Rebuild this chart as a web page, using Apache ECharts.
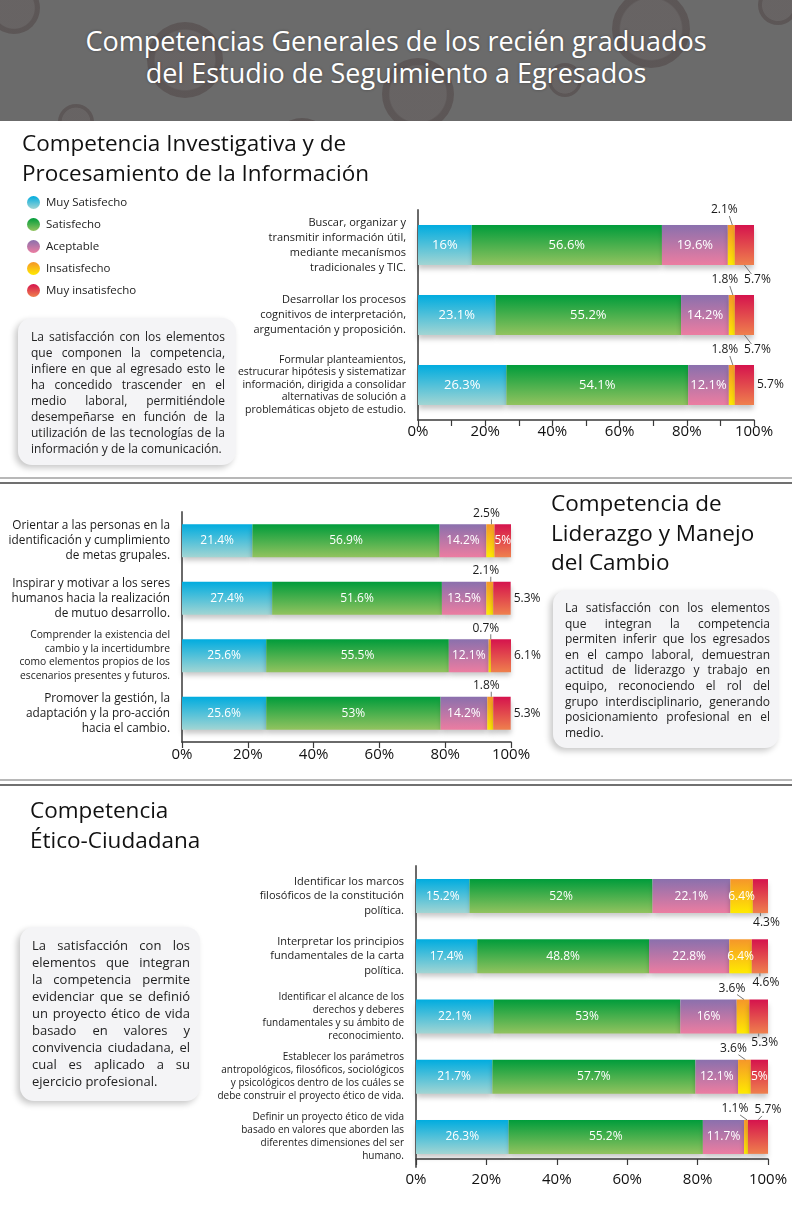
<!DOCTYPE html>
<html><head><meta charset="utf-8">
<script src="https://cdn.jsdelivr.net/npm/echarts@6/dist/echarts.min.js"></script>
<style>
html,body{margin:0;padding:0;background:#fff;}
body{width:792px;height:1224px;position:relative;overflow:hidden;font-family:"Open Sans","Noto Sans",sans-serif;color:#111;}
#header{position:absolute;left:0;top:0;width:792px;height:121px;background:#6b6b6b;overflow:hidden;}
.wm{position:absolute;border-radius:50%;background:radial-gradient(circle, rgba(95,82,82,0.30) 0%, rgba(95,82,82,0.30) 55%, rgba(72,58,58,0.42) 58%, rgba(72,58,58,0.42) 100%);}
#htitle{position:absolute;left:0;top:25px;width:792px;text-align:center;color:#fff;font-size:27px;line-height:32px;text-shadow:0 0 3px rgba(0,0,0,0.3);}
#chart{position:absolute;left:0;top:0;width:792px;height:1224px;z-index:1;}
.stitle{position:absolute;font-size:22.5px;line-height:29.5px;color:#111;white-space:nowrap;z-index:2;}
.box{position:absolute;background:#f4f4f6;border-radius:14px;box-shadow:-3px 3px 6px rgba(0,0,0,0.22);box-sizing:border-box;color:#222;z-index:2;}
.box div{white-space:nowrap;text-align:justify;text-align-last:justify;}
.box div.last{text-align-last:left;}
.sep{position:absolute;left:0;width:792px;z-index:2;}
</style></head>
<body>
<div id="header">
  <div class="wm" style="left:-12px;top:-18px;width:52px;height:52px"></div>
  <div class="wm" style="left:147px;top:22px;width:76px;height:76px"></div>
  <div class="wm" style="left:58px;top:104px;width:36px;height:36px"></div>
  <div class="wm" style="left:272px;top:118px;width:60px;height:60px"></div>
  <div class="wm" style="left:382px;top:58px;width:72px;height:72px"></div>
  <div class="wm" style="left:612px;top:-10px;width:78px;height:78px"></div>
  <div class="wm" style="left:548px;top:63px;width:34px;height:34px"></div>
  <div class="wm" style="left:700px;top:137px;width:56px;height:56px"></div>
  <div class="wm" style="left:758px;top:-15px;width:40px;height:40px"></div>
  <div class="wm" style="left:-5px;top:142px;width:60px;height:60px"></div>
  <div id="htitle">Competencias Generales de los recién graduados<br>del Estudio de Seguimiento a Egresados</div>
</div>
<div id="chart"></div>

<div class="stitle" style="left:22px;top:128px">Competencia Investigativa y de<br>Procesamiento de la Información</div>
<div class="stitle" style="left:551px;top:488px">Competencia de<br>Liderazgo y Manejo<br>del Cambio</div>
<div class="stitle" style="left:30px;top:795px">Competencia<br>Ético-Ciudadana</div>

<div class="box" style="left:18px;top:318px;width:218px;height:147px;padding:11px 11px 0 13px;font-size:12px;line-height:16px">
<div>La satisfacción con los elementos</div>
<div>que componen la competencia,</div>
<div>infiere en que al egresado esto le</div>
<div>ha concedido trascender en el</div>
<div>medio laboral, permitiéndole</div>
<div>desempeñarse en función de la</div>
<div>utilización de las tecnologías de la</div>
<div class="last">información y de la comunicación.</div>
</div>

<div class="box" style="left:553px;top:590px;width:226px;height:158px;padding:10px 9px 0 12px;font-size:12px;line-height:15.6px">
<div>La satisfacción con los elementos</div>
<div>que integran la competencia</div>
<div>permiten inferir que los egresados</div>
<div>en el campo laboral, demuestran</div>
<div>actitud de liderazgo y trabajo en</div>
<div>equipo, reconociendo el rol del</div>
<div>grupo interdisciplinario, generando</div>
<div>posicionamiento profesional en el</div>
<div class="last">medio.</div>
</div>

<div class="box" style="left:20px;top:927px;width:180px;height:174px;padding:10px 10px 0 12px;font-size:13px;line-height:17px">
<div>La satisfacción con los</div>
<div>elementos que integran</div>
<div>la competencia permite</div>
<div>evidenciar que se definió</div>
<div>un proyecto ético de vida</div>
<div>basado en valores y</div>
<div>convivencia ciudadana, el</div>
<div>cual es aplicado a su</div>
<div class="last">ejercicio profesional.</div>
</div>

<div class="sep" style="top:477px;height:2px;background:#b8b8b8"></div>
<div class="sep" style="top:482px;height:1.5px;background:#707070"></div>
<div class="sep" style="top:779px;height:2px;background:#b8b8b8"></div>
<div class="sep" style="top:784px;height:1.5px;background:#707070"></div>

<script>
// ---------- DATA ----------
const levels = ['Muy Satisfecho', 'Satisfecho', 'Aceptable', 'Insatisfecho', 'Muy insatisfecho'];

const cats1 = [
  'Buscar, organizar y\ntransmitir información útil,\nmediante mecanísmos\ntradicionales y TIC.',
  'Desarrollar los procesos\ncognitivos de interpretación,\nargumentación y proposición.',
  'Formular planteamientos,\nestrucurar hipótesis y sistematizar\ninformación, dirigida a consolidar\nalternativas de solución a\nproblemáticas objeto de estudio.'
];
const muySat1 = [16, 23.1, 26.3];
const sat1 = [56.6, 55.2, 54.1];
const acep1 = [19.6, 14.2, 12.1];
const insat1 = [2.1, 1.8, 1.8];
const muyInsat1 = [5.7, 5.7, 5.7];

const cats2 = [
  'Orientar a las personas en la\nidentificación y cumplimiento\nde metas grupales.',
  'Inspirar y motivar a los seres\nhumanos hacia la realización\nde mutuo desarrollo.',
  'Comprender la existencia del\ncambio y la incertidumbre\ncomo elementos propios de los\nescenarios presentes y futuros.',
  'Promover la gestión, la\nadaptación y la pro-acción\nhacia el cambio.'
];
const muySat2 = [21.4, 27.4, 25.6, 25.6];
const sat2 = [56.9, 51.6, 55.5, 53];
const acep2 = [14.2, 13.5, 12.1, 14.2];
const insat2 = [2.5, 2.1, 0.7, 1.8];
const muyInsat2 = [5, 5.3, 6.1, 5.3];

const cats3 = [
  'Identificar los marcos\nfilosóficos de la constitución\npolítica.',
  'Interpretar los principios\nfundamentales de la carta\npolítica.',
  'Identificar el alcance de los\nderechos y deberes\nfundamentales y su ámbito de\nreconocimiento.',
  'Establecer los parámetros\nantropológicos, filosóficos, sociológicos\ny psicológicos dentro de los cuáles se\ndebe construir el proyecto ético de vida.',
  'Definir un proyecto ético de vida\nbasado en valores que aborden las\ndiferentes dimensiones del ser\nhumano.'
];
const muySat3 = [15.2, 17.4, 22.1, 21.7, 26.3];
const sat3 = [52, 48.8, 53, 57.7, 55.2];
const acep3 = [22.1, 22.8, 16, 12.1, 11.7];
const insat3 = [6.4, 6.4, 3.6, 3.6, 1.1];
const muyInsat3 = [4.3, 4.6, 5.3, 5, 5.7];

const xTicks = [0, 20, 40, 60, 80, 100];

// ---------- LABEL PLACEMENT (style config) ----------
const place1 = { insat: ['up', 'up', 'up'], muy: ['down', 'down', 'right'] };
const place2 = { insat: ['up', 'up', 'up', 'up'], muy: ['in', 'right', 'right', 'right'] };
const place3 = { insat: ['in', 'in', 'up', 'up', 'up'], muy: ['down', 'down', 'down', 'in', 'upR'] };
const offs1 = { up: [-7, -15], down: [13, 15], upR: [10, -10] };
const offs2 = { up: [-4, -11], down: [10, 12], upR: [10, -10] };
const offs3 = { up: [-11, -11], down: [6, 9], upR: [10, -10] };

const grads = [
  ['#00acdf', '#a2d5d3'],
  ['#009c3b', '#92c35f'],
  ['#8a70ad', '#ec7da1'],
  ['#f5962a', '#ffea00'],
  ['#d5134d', '#ef804d']
];
function grad(i) {
  return { type: 'linear', x: 0, y: 0, x2: 0, y2: 1,
    colorStops: [{ offset: 0, color: grads[i][0] }, { offset: 1, color: grads[i][1] }] };
}

const grids = [
  { left: 418, right: 38, top: 210, height: 210 },
  { left: 182, right: 281, top: 512, height: 230 },
  { left: 416, right: 24, top: 866, height: 301 }
];
const barW = [40, 33, 34];
const valFont = [13, 12, 12];
const xLabelFont = [15, 15, 15];
const xLabelMargin = [4, 5, 13];
const xOffset = [0, 0, -8];
const xInterval = [10, 20, 20];
const catStyles = [['a', 'a', 'b'], ['a', 'a', 'b', 'a'], ['a', 'a', 'b', 'b', 'b']];
const catRich = [
  { a: { fontSize: 11, lineHeight: 15, color: '#1a1a1a' }, b: { fontSize: 10.5, lineHeight: 12.5, color: '#1a1a1a' } },
  { a: { fontSize: 11.8, lineHeight: 15, color: '#1a1a1a' }, b: { fontSize: 10.3, lineHeight: 13.5, color: '#1a1a1a' } },
  { a: { fontSize: 11, lineHeight: 14.5, color: '#1a1a1a' }, b: { fontSize: 10, lineHeight: 13, color: '#1a1a1a' } }
];

const charts = [
  { cats: cats1, vals: [muySat1, sat1, acep1, insat1, muyInsat1], place: place1, offs: offs1 },
  { cats: cats2, vals: [muySat2, sat2, acep2, insat2, muyInsat2], place: place2, offs: offs2 },
  { cats: cats3, vals: [muySat3, sat3, acep3, insat3, muyInsat3], place: place3, offs: offs3 }
];

function labelPos(k, offs, x0, x1, top, bottom) {
  const cx = (x0 + x1) / 2;
  if (k === 'up') return [cx + offs.up[0], top + offs.up[1]];
  if (k === 'upR') return [cx + offs.upR[0], top + offs.upR[1]];
  if (k === 'down') return [cx + offs.down[0], bottom + offs.down[1]];
  return null;
}

const xAxes = [], yAxes = [], series = [];
charts.forEach((c, gi) => {
  xAxes.push({
    type: 'value', gridIndex: gi, min: 0, max: 100, interval: xInterval[gi], offset: xOffset[gi],
    axisLine: { show: true, lineStyle: { color: '#3a3a3a', width: 1.5 } },
    axisTick: { show: true, length: 6, lineStyle: { color: '#3a3a3a', width: 1.2 } },
    splitLine: { show: false },
    axisLabel: { fontSize: xLabelFont[gi], color: '#111', margin: xLabelMargin[gi],
      formatter: v => (xTicks.indexOf(v) >= 0 ? v + '%' : '') }
  });
  yAxes.push({
    type: 'category', gridIndex: gi, data: c.cats, inverse: true,
    axisLine: { show: true, lineStyle: { color: '#6a6a6a', width: 2 } },
    axisTick: { show: false },
    axisLabel: { margin: 12, rich: catRich[gi],
      formatter: (v, idx) => '{' + catStyles[gi][idx] + '|' + v + '}' }
  });
  levels.forEach((name, si) => {
    const pl = si === 3 ? c.place.insat : si === 4 ? c.place.muy : null;
    series.push({
      name, type: 'bar', stack: 'g' + gi, xAxisIndex: gi, yAxisIndex: gi,
      barWidth: barW[gi],
      itemStyle: { color: grad(si), shadowColor: 'rgba(0,0,0,0.22)', shadowBlur: 5, shadowOffsetY: 4 },
      label: { show: true, position: 'inside', color: '#fff', fontSize: valFont[gi],
        formatter: p => p.value + '%' },
      labelLayout: function (p) {
        if (!pl) return {};
        const k = pl[p.dataIndex];
        const r = p.rect;
        if (k === 'right') return { x: r.x + r.width + 3, y: r.y + r.height / 2, align: 'left', verticalAlign: 'middle' };
        const pos = labelPos(k, c.offs, r.x, r.x + r.width, r.y, r.y + r.height);
        if (!pos) return {};
        return { x: pos[0], y: pos[1], align: 'center', verticalAlign: 'middle' };
      },
      data: c.vals[si].map((v, i) => {
        const k = pl ? pl[i] : 'in';
        const o = { value: v };
        if (k !== 'in') o.label = { color: '#1a1a1a', fontSize: 12 };
        return o;
      })
    });
  });
  // leader lines for labels moved outside the small segments
  const leaders = [];
  [3, 4].forEach(si => {
    const pl = si === 3 ? c.place.insat : c.place.muy;
    c.vals[si].forEach((v, i) => {
      const k = pl[i];
      if (k === 'in' || k === 'right') return;
      let start = 0;
      for (let j = 0; j < si; j++) start += c.vals[j][i];
      leaders.push([start, start + v, i, ['up', 'down', 'upR'].indexOf(k)]);
    });
  });
  series.push({
    type: 'custom', xAxisIndex: gi, yAxisIndex: gi, z: 5, silent: true,
    data: leaders,
    renderItem: function (params, api) {
      const k = ['up', 'down', 'upR'][api.value(3)];
      const p0 = api.coord([api.value(0), api.value(2)]);
      const p1 = api.coord([api.value(1), api.value(2)]);
      const top = p0[1] - barW[gi] / 2, bottom = p0[1] + barW[gi] / 2;
      const cx = (p0[0] + p1[0]) / 2;
      const lp = labelPos(k, c.offs, p0[0], p1[0], top, bottom);
      let a, b;
      if (k === 'up') { a = [lp[0] + 5, lp[1] + 6]; b = [cx + 1, top]; }
      else if (k === 'down') { a = [cx, bottom]; b = [lp[0] - 6, lp[1] - 6]; }
      else { a = [lp[0] - 6, lp[1] + 6]; b = [cx, top]; }
      return { type: 'line', shape: { x1: a[0], y1: a[1], x2: b[0], y2: b[1] },
        style: { stroke: '#555', lineWidth: 0.8 } };
    }
  });
});

const chart = echarts.init(document.getElementById('chart'), null, { renderer: 'canvas' });
chart.setOption({
  animation: false,
  backgroundColor: 'transparent',
  textStyle: { fontFamily: '"Open Sans","Noto Sans",sans-serif' },
  legend: {
    data: levels, orient: 'vertical', left: 22, top: 191, itemWidth: 13, itemHeight: 13, itemGap: 9,
    icon: 'circle', selectedMode: false,
    textStyle: { fontSize: 11.5, color: '#222', padding: [0, 0, 0, 1] }
  },
  grid: grids,
  xAxis: xAxes,
  yAxis: yAxes,
  series
});
</script>
</body></html>
